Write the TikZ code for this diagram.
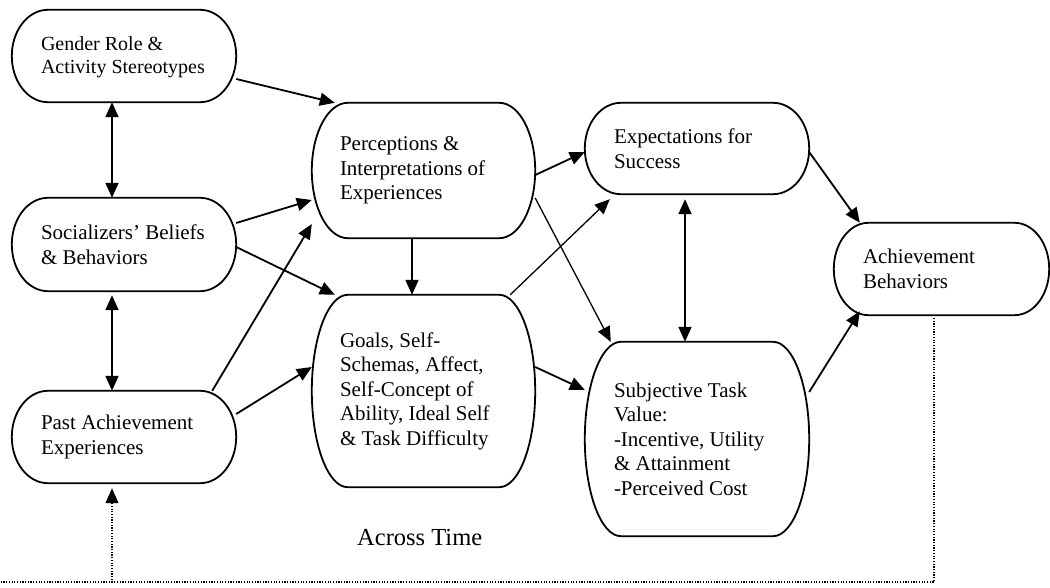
\documentclass[tikz,border=0pt]{standalone}
\usepackage{fontspec}
\setmainfont{Liberation Serif}
\usetikzlibrary{arrows.meta,calc}

\tikzset{
  termbox/.style={draw=none, inner sep=0pt},
  termtext/.style={anchor=west, inner sep=0pt, align=left,
    font=\fontsize{21}{24.5}\selectfont},
  termline/.style={line width=1.8pt, line join=round},
  arrowline/.style={line width=1.8pt, -{Triangle[length=15pt,width=13pt]}},
  twoway/.style={line width=1.8pt,
    {Triangle[length=15pt,width=13pt]}-{Triangle[length=15pt,width=13pt]}},
  thinarrow/.style={line width=1.3pt, -{Triangle[length=15pt,width=13pt]}},
  feedback/.style={line width=1.2pt, dash pattern=on 1.2pt off 1.5pt,
    -{Triangle[length=15pt,width=13pt]}},
}

% Flowchart "terminator" outline drawn around a named node:
% straight top/bottom edges, half-elliptic ends (x radius 16.1% of width).
\newcommand\terminator[1]{%
  \draw[termline] let \p1=(#1.north west), \p2=(#1.south east),
      \n1={0.161*(\x2-\x1)}, \n2={(\y1-\y2)/2} in
    (\x1+\n1,\y1) -- (\x2-\n1,\y1)
    arc[start angle=90,end angle=-90,x radius=\n1,y radius=\n2]
    -- (\x1+\n1,\y2)
    arc[start angle=270,end angle=90,x radius=\n1,y radius=\n2] -- cycle;}

\begin{document}
\begin{tikzpicture}[x=1pt,y=-1pt]
\useasboundingbox (0,0) rectangle (1050,588);

% Box outlines (empty nodes, text set separately inside)
\node[termbox, minimum width=224pt, minimum height=92pt]  (gender)  at (124,56) {};
\node[termbox, minimum width=224pt, minimum height=93pt]  (social)  at (124,244.5) {};
\node[termbox, minimum width=224pt, minimum height=92pt]  (past)    at (124,437) {};
\node[termbox, minimum width=223pt, minimum height=135pt] (perc)    at (423.5,170.5) {};
\node[termbox, minimum width=223pt, minimum height=192pt] (goals)   at (423.5,391) {};
\node[termbox, minimum width=224pt, minimum height=91pt]  (expect)  at (697,148.5) {};
\node[termbox, minimum width=224pt, minimum height=194pt] (subj)    at (697,439) {};
\node[termbox, minimum width=215pt, minimum height=92pt]  (achieve) at (941.5,269) {};

\foreach \b in {gender,social,past,perc,goals,expect,subj,achieve}
  {\terminator{\b}}

% Box texts
\node[termtext, font=\fontsize{20}{23.5}\selectfont] (gender-t) at ($(gender.west)+(29,1)$)
  {Gender Role \&\\Activity Stereotypes};
\node[termtext] (social-t) at ($(social.west)+(29,0)$)
  {Socializers’ Beliefs\\\& Behaviors};
\node[termtext] (past-t) at ($(past.west)+(29,0)$)
  {Past Achievement\\Experiences};
\node[termtext] (perc-t) at ($(perc.west)+(28,0)$)
  {Perceptions \&\\Interpretations of\\Experiences};
\node[termtext] (goals-t) at ($(goals.west)+(28,0)$)
  {Goals, Self-\\Schemas, Affect,\\Self-Concept of\\Ability, Ideal Self\\\& Task Difficulty};
\node[termtext] (expect-t) at ($(expect.west)+(29,0)$)
  {Expectations for\\Success};
\node[termtext] (subj-t) at ($(subj.west)+(29,0)$)
  {Subjective Task\\Value:\\-Incentive, Utility\\\& Attainment\\-Perceived Cost};
\node[termtext] (achieve-t) at ($(achieve.west)+(29,0)$)
  {Achievement\\Behaviors};

% Caption under the middle column
\node[font=\fontsize{24.5}{28}\selectfont, anchor=base west, inner sep=0pt]
  (time) at (357,545) {Across Time};

% Left column links
\draw[twoway] ($(gender.south)+(-12,0)$) -- ($(social.north)+(-12,0)$);
\draw[twoway] ($(social.south)+(-12,4)$) -- ($(past.north)+(-12,0)$);

\draw[arrowline] ($(gender.east)+(0,23)$) -- ($(perc.north west)+(23,0)$);
\draw[arrowline] ($(social.east)+(0,-21.5)$) -- ($(perc.west)+(0,29.5)$);
\draw[arrowline] ($(social.east)+(0,2.5)$) -- ($(goals.north west)+(23,0)$);
\draw[arrowline] ($(past.north east)+(-24,0)$) -- ($(perc.west)+(0,53.5)$);
\draw[arrowline] ($(past.east)+(0,-23)$) -- ($(goals.west)+(0,-24)$);

% Middle column links
\draw[arrowline] ($(perc.south)+(-11.5,0)$) -- ($(goals.north)+(-11.5,0)$);
\draw[arrowline] ($(perc.east)+(0,4.5)$) -- ($(expect.west)+(0,3.5)$);
\draw[thinarrow] ($(perc.east)+(0,27.5)$) -- ($(subj.north west)+(26,0)$);
\draw[thinarrow] ($(goals.north east)+(-25,0)$) -- ($(expect.south west)+(25,5)$);
\draw[arrowline] ($(goals.east)+(0,-24)$) -- ($(subj.west)+(0,-49)$);

% Right column links
\draw[twoway] ($(expect.south)+(-12,5)$) -- ($(subj.north)+(-12,0)$);
\draw[arrowline] ($(expect.east)+(0,3.5)$) -- ($(achieve.north west)+(26,0)$);
\draw[arrowline] ($(subj.east)+(0,-47)$) -- ($(achieve.south west)+(26,-4)$);

% Feedback loop back to past experiences
\coordinate (loop) at (0,582);
\draw[feedback] ($(achieve.south)+(-7.5,0)$) |- (loop) -| ($(past.south)+(-12,5)$);
\end{tikzpicture}
\end{document}
